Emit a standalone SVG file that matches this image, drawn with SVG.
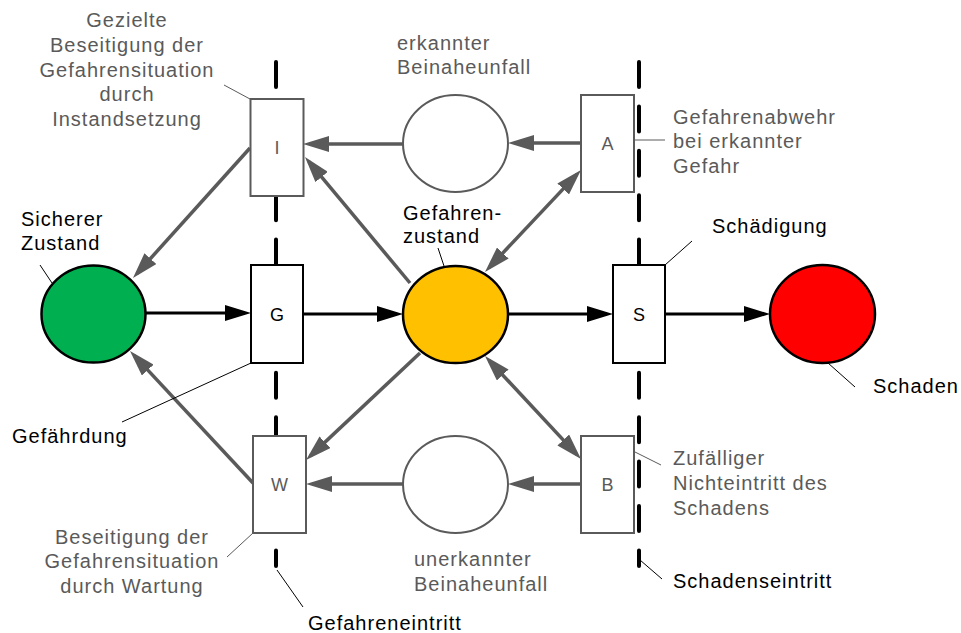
<svg xmlns="http://www.w3.org/2000/svg" width="961" height="633" viewBox="0 0 961 633">
<defs>
<style>
.t{font-family:"Liberation Sans",Arial,sans-serif;font-size:20px;letter-spacing:1px}
.k{fill:#000}
.g{fill:#5a5a5a}
.lbl{font-family:"Liberation Sans",Arial,sans-serif;font-size:18px;text-anchor:middle}
.dash{stroke:#000;stroke-width:4;stroke-dasharray:25 19.4;stroke-linecap:round;fill:none}
.bk{fill:#fff;stroke:#000;stroke-width:2}
.bg{fill:#fff;stroke:#5a5a5a;stroke-width:2}
.ak{stroke:#000;stroke-width:3;fill:none;marker-end:url(#hk)}
.ag{stroke:#5a5a5a;stroke-width:3.5;fill:none;marker-end:url(#hg)}
.ag2{stroke:#5a5a5a;stroke-width:3.5;fill:none;marker-end:url(#hg);marker-start:url(#hg)}
.lk{stroke:#000;stroke-width:1;fill:none}
.lg{stroke:#5a5a5a;stroke-width:1;fill:none}
</style>
<marker id="hk" markerUnits="userSpaceOnUse" markerWidth="26" markerHeight="16" refX="20" refY="8" orient="auto-start-reverse" viewBox="0 0 26 16"><path d="M0,0 L26,8 L0,16 z" fill="#000"/></marker>
<marker id="hg" markerUnits="userSpaceOnUse" markerWidth="26" markerHeight="16" refX="20" refY="8" orient="auto-start-reverse" viewBox="0 0 26 16"><path d="M0,0 L26,8 L0,16 z" fill="#5a5a5a"/></marker>
</defs>
<rect width="961" height="633" fill="#fff"/>
<g id="boundaries">
<line class="dash" x1="276" y1="62" x2="276" y2="566"/>
<line class="dash" x1="639" y1="62" x2="639" y2="566"/>
</g>
<g id="connectors">
<line class="ak" x1="146" y1="313" x2="245" y2="313"/>
<line class="ak" x1="303" y1="314" x2="397" y2="314"/>
<line class="ak" x1="508" y1="314" x2="607" y2="314"/>
<line class="ak" x1="665" y1="314" x2="764" y2="314"/>
<line class="ag" x1="581" y1="143" x2="514" y2="143"/>
<line class="ag" x1="403" y1="144" x2="309" y2="144"/>
<line class="ag" x1="410" y1="283" x2="308.8" y2="161.6"/>
<line class="ag2" x1="489.1" y1="267.6" x2="576.9" y2="174.4"/>
<line class="ag" x1="250" y1="148" x2="137" y2="273.5"/>
<line class="ag" x1="253" y1="483" x2="134.1" y2="355.4"/>
<line class="ag" x1="420" y1="353" x2="310.4" y2="455.9"/>
<line class="ag2" x1="489.1" y1="360.4" x2="576.9" y2="454.6"/>
<line class="ag" x1="581" y1="484" x2="514" y2="484"/>
<line class="ag" x1="403" y1="484" x2="312" y2="484"/>
</g>
<g id="leaders">
<line class="lg" x1="224" y1="85" x2="250" y2="99"/>
<line class="lk" x1="40" y1="265" x2="52" y2="283"/>
<line class="lk" x1="251" y1="363" x2="122" y2="422"/>
<line class="lk" x1="438" y1="248" x2="444" y2="266"/>
<line class="lk" x1="665" y1="265" x2="692" y2="241"/>
<line class="lk" x1="828" y1="363" x2="855" y2="387"/>
<line class="lg" x1="635" y1="140" x2="665" y2="140"/>
<line class="lg" x1="635" y1="452" x2="661" y2="465"/>
<line class="lk" x1="640" y1="560" x2="662" y2="579"/>
<line class="lg" x1="253" y1="533" x2="227" y2="557"/>
<line class="lk" x1="277" y1="570" x2="303" y2="607"/>
</g>
<g id="I"><rect class="bg" x="250.5" y="99" width="53" height="97"/><text class="lbl g" x="277" y="154">I</text></g>
<g id="G"><rect class="bk" x="251" y="265" width="52" height="98"/><text class="lbl k" x="277" y="321">G</text></g>
<g id="W"><rect class="bg" x="253" y="436" width="53" height="97"/><text class="lbl g" x="279.5" y="491">W</text></g>
<g id="A"><rect class="bg" x="581" y="95" width="53" height="97"/><text class="lbl g" x="607.5" y="150">A</text></g>
<g id="S"><rect class="bk" x="613" y="265" width="52" height="98"/><text class="lbl k" x="639" y="321">S</text></g>
<g id="B"><rect class="bg" x="581" y="436" width="53" height="97"/><text class="lbl g" x="607.5" y="491">B</text></g>
<g id="sicher"><ellipse cx="93.5" cy="314" rx="52" ry="48.5" fill="#00B050" stroke="#000" stroke-width="2.5"/></g>
<g id="gefahr"><ellipse cx="455.5" cy="314.5" rx="52.5" ry="48.5" fill="#FFC000" stroke="#000" stroke-width="2.5"/></g>
<g id="schaden"><ellipse cx="822.5" cy="314" rx="52.5" ry="49" fill="#FF0000" stroke="#000" stroke-width="2.5"/></g>
<g id="erkannt"><ellipse cx="455.5" cy="143.5" rx="52.5" ry="48.5" fill="#fff" stroke="#5a5a5a" stroke-width="2"/></g>
<g id="unerkannt"><ellipse cx="455.5" cy="484.5" rx="52.5" ry="48.5" fill="#fff" stroke="#5a5a5a" stroke-width="2"/></g>
<g id="labels">
<text class="t g" text-anchor="middle"><tspan x="127" y="27">Gezielte</tspan><tspan x="127" y="52">Beseitigung der</tspan><tspan x="127" y="77">Gefahrensituation</tspan><tspan x="127" y="101">durch</tspan><tspan x="127" y="126">Instandsetzung</tspan></text>
<text class="t g"><tspan x="397" y="50">erkannter</tspan><tspan x="397" y="74">Beinaheunfall</tspan></text>
<text class="t g"><tspan x="673" y="124">Gefahrenabwehr</tspan><tspan x="673" y="148">bei erkannter</tspan><tspan x="673" y="173">Gefahr</tspan></text>
<text class="t k" x="712" y="233">Schädigung</text>
<text class="t k"><tspan x="21" y="226">Sicherer</tspan><tspan x="21" y="250">Zustand</tspan></text>
<text class="t k"><tspan x="403" y="220">Gefahren-</tspan><tspan x="403" y="243">zustand</tspan></text>
<text class="t k" x="12" y="443">Gefährdung</text>
<text class="t k" x="873" y="393">Schaden</text>
<text class="t g"><tspan x="673" y="465">Zufälliger</tspan><tspan x="673" y="490">Nichteintritt des</tspan><tspan x="673" y="515">Schadens</tspan></text>
<text class="t k" x="673" y="588">Schadenseintritt</text>
<text class="t g"><tspan x="414" y="566">unerkannter</tspan><tspan x="414" y="591">Beinaheunfall</tspan></text>
<text class="t k" x="308" y="630">Gefahreneintritt</text>
<text class="t g" text-anchor="middle"><tspan x="132" y="544">Beseitigung der</tspan><tspan x="132" y="568">Gefahrensituation</tspan><tspan x="132" y="593">durch Wartung</tspan></text>
</g>
</svg>
